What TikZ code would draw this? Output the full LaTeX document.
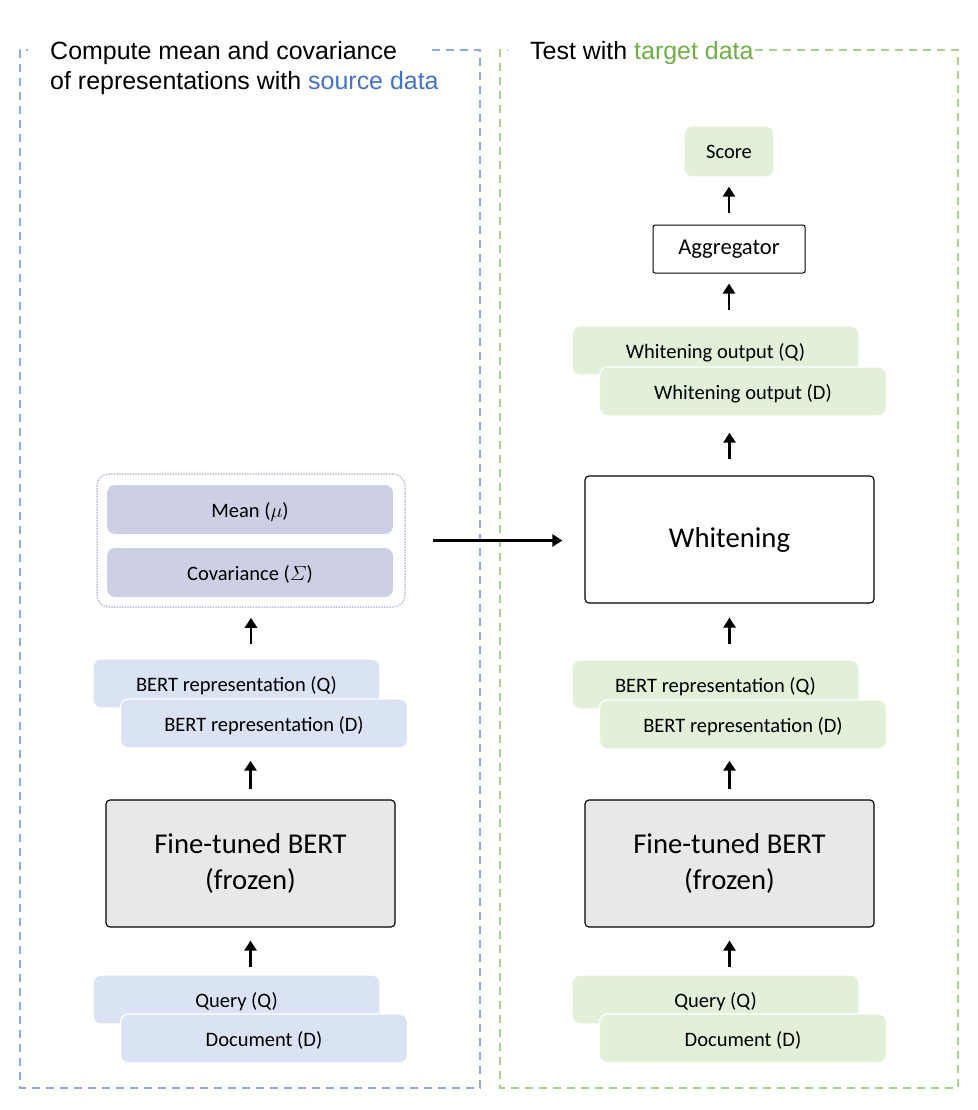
\documentclass[tikz,border=0pt]{standalone}
\usepackage{amsmath}
\usepackage{fontspec}
\setmainfont{Carlito}
\newfontfamily\arialf{Liberation Sans}
\usepackage{xcolor}
\usetikzlibrary{positioning,arrows.meta,calc}
\definecolor{srcColor}{HTML}{4472C4}
\definecolor{tgtColor}{HTML}{70AD47}
\definecolor{srcLine}{HTML}{8FAADC}
\definecolor{tgtLine}{HTML}{A9D18E}
\definecolor{srcFill}{HTML}{DAE3F3}
\definecolor{tgtFill}{HTML}{E2F0D9}
\definecolor{statFill}{HTML}{CDD0E5}
\definecolor{statLine}{HTML}{BCBEDA}
\definecolor{bertFill}{HTML}{E8E8E8}

\begin{document}
\begin{tikzpicture}[
    x=0.3mm, y=-0.3mm,
    frame/.style={dashed, dash pattern=on 2.4mm off 1.8mm, line width=0.45mm},
    title/.style={font=\arialf\fontsize{21.3}{25.5}\selectfont, inner sep=0, anchor=base west},
    card/.style={rounded corners=2.4mm, minimum width=86.1mm, minimum height=14.7mm, text depth=0pt,
      font=\fontsize{17.5}{21}\selectfont, draw=white, line width=0.4mm},
    big/.style={draw, rounded corners=1.2mm, minimum width=86.7mm, minimum height=38.1mm,
      font=\fontsize{24.5}{31}\selectfont, align=center, line width=0.35mm},
    arr/.style={-{Triangle[length=3mm, width=3.6mm]}, line width=0.75mm}
  ]
  \useasboundingbox (0,0) rectangle (977,1110);

  % Frames and titles
  \draw[frame, srcLine] (432,50) -| (480,1088) -| (20,50) -- (28,50);
  \draw[frame, tgtLine] (755,50) -| (958,1088) -| (500,50) -- (508,50);
  \node[title] (t1a) at (50,59) {Compute mean and covariance};
  \node[title] (t1b) at (50,89) {of representations with \textcolor{srcColor}{source data}};
  \node[title] (t2) at (530,59) {Test with \textcolor{tgtColor}{target data}};

  % Source side
  \node[card, fill=srcFill] (q1) at (236.5,999.5) {Query (Q)};
  \node[card, fill=srcFill] (d1) at (264,1038.5) {Document (D)};
  \node[big, fill=bertFill] (bert1) at (250.5,863.5) {Fine-tuned BERT\\(frozen)};
  \node[card, fill=srcFill] (rq1) at (236.5,683.5) {BERT representation (Q)};
  \node[card, fill=srcFill] (rd1) at (264,723.5) {BERT representation (D)};
  \node[draw=statLine, densely dotted, line width=0.45mm, rounded corners=3.6mm,
    minimum width=92.4mm, minimum height=39.9mm] (grp) at (251,540.5) {};
  \node[card, draw=none, fill=statFill, minimum width=85.8mm] (mu) at (250,509.5) {Mean ($\mu$)};
  \node[card, draw=none, fill=statFill, minimum width=85.8mm] (cov) at (250,572.5) {Covariance ($\varSigma$)};

  \draw[arr, shorten <=2.1mm, shorten >=3.9mm] (bert1.south |- q1.north) -- (bert1.south);
  \draw[arr, shorten <=3mm, shorten >=3.6mm] (bert1.north) -- (bert1.north |- rd1.south);
  \draw[arr, shorten <=4.2mm, shorten >=3mm] (grp.south |- rq1.north) -- (grp.south);

  % Target side
  \node[card, fill=tgtFill] (q2) at (715.5,999.5) {Query (Q)};
  \node[card, fill=tgtFill] (d2) at (743,1038.5) {Document (D)};
  \node[big, fill=bertFill] (bert2) at (729.5,863.5) {Fine-tuned BERT\\(frozen)};
  \node[card, fill=tgtFill] (rq2) at (715.5,684.5) {BERT representation (Q)};
  \node[card, fill=tgtFill] (rd2) at (743,724.5) {BERT representation (D)};
  \node[big, fill=white] (whit) at (729.5,539.5) {Whitening};
  \node[card, fill=tgtFill] (wq) at (715.5,350.5) {Whitening output (Q)};
  \node[card, fill=tgtFill] (wd) at (743,391.5) {Whitening output (D)};
  \node[draw, rounded corners=0.6mm, line width=0.3mm, minimum width=45.6mm, minimum height=14.4mm,
    font=\fontsize{19.3}{23}\selectfont] (agg) at (729,249) {Aggregator};
  \node[card, fill=tgtFill, minimum width=27mm, minimum height=15.3mm] (score) at (729,151.5) {Score};

  \draw[arr, shorten <=8.1mm, shorten >=6.6mm] (grp.east) -- (grp.east -| whit.west);
  \draw[arr, shorten <=2.1mm, shorten >=3.9mm] (bert2.south |- q2.north) -- (bert2.south);
  \draw[arr, shorten <=3mm, shorten >=3.3mm] (bert2.north) -- (bert2.north |- rd2.south);
  \draw[arr, shorten <=4.5mm, shorten >=4.2mm] (whit.south |- rq2.north) -- (whit.south);
  \draw[arr, shorten <=4.8mm, shorten >=4.8mm] (whit.north) -- (whit.north |- wd.south);
  \draw[arr, shorten <=4.5mm, shorten >=3mm] (agg.south |- wq.north) -- (agg.south);
  \draw[arr, shorten <=3.6mm, shorten >=2.7mm] (agg.north) -- (score.south);
\end{tikzpicture}
\end{document}
